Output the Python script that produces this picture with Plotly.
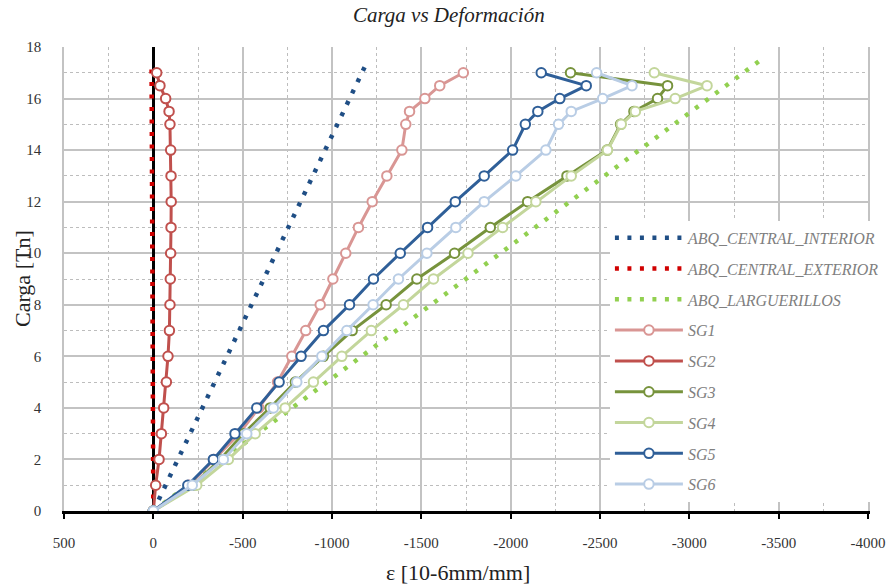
import plotly.graph_objects as go

# ---------------- data ----------------
loads = [0, 1, 2, 3, 4, 5, 6, 7, 8, 9, 10, 11, 12, 13, 14, 15, 15.5, 16, 16.5, 17]

sg1 = [0, -200, -340, -480, -590, -695, -775, -853, -934, -1005, -1077, -1148, -1225, -1307, -1391, -1413, -1434, -1520, -1603, -1735]
sg2 = [0, -13, -32, -45, -58, -73, -82, -90, -93, -95, -97, -99, -100, -99, -97, -93, -88, -69, -37, -19]
sg3 = [0, -224, -374, -504, -654, -795, -952, -1113, -1303, -1475, -1686, -1886, -2095, -2315, -2540, -2615, -2690, -2822, -2878, -2335]
sg4 = [0, -243, -420, -570, -738, -896, -1055, -1220, -1400, -1568, -1761, -1955, -2141, -2339, -2542, -2619, -2698, -2921, -3099, -2804]
sg5 = [0, -193, -336, -457, -579, -704, -827, -952, -1098, -1232, -1382, -1535, -1690, -1852, -2011, -2082, -2152, -2275, -2423, -2171]
sg6 = [0, -218, -392, -523, -672, -803, -943, -1083, -1230, -1372, -1531, -1693, -1852, -2029, -2197, -2268, -2339, -2515, -2679, -2481]

abq_ci_x = [0, -631, -758, -1195]
abq_ci_y = [0, 9.16, 11.0, 17.4]
abq_ce_x = [0, 10]
abq_ce_y = [0, 17.4]
abq_l_x = [0, -1223, -2333, -3394]
abq_l_y = [0, 6.28, 12.0, 17.47]

x_tick_vals = [500, 0, -500, -1000, -1500, -2000, -2500, -3000, -3500, -4000]
x_tick_text = ["500", "0", "-500", "-1000", "-1500", "-2000", "-2500", "-3000", "-3500", "-4000"]
y_tick_vals = [0, 2, 4, 6, 8, 10, 12, 14, 16, 18]
y_tick_text = ["0", "2", "4", "6", "8", "10", "12", "14", "16", "18"]

title_text = "Carga vs Deformación"
x_title = "ε [10-6mm/mm]"
y_title = "Carga [Tn]"

# ---------------- figure ----------------
SERIF = "Liberation Serif, Times New Roman, serif"
fig = go.Figure()

dotted = [
    ("ABQ_CENTRAL_INTERIOR", abq_ci_x, abq_ci_y, "#1f4e85"),
    ("ABQ_CENTRAL_EXTERIOR", abq_ce_x, abq_ce_y, "#d00000"),
    ("ABQ_LARGUERILLOS", abq_l_x, abq_l_y, "#92d050"),
]
for name, xs, ys, col in dotted:
    fig.add_trace(go.Scatter(
        x=xs, y=ys, name=name, mode="lines", legendgroup=name,
        line=dict(color=col, width=4.5, dash="4px,8.5px"),
    ))

solid = [
    ("SG1", sg1, "#d99694"),
    ("SG2", sg2, "#c0504d"),
    ("SG3", sg3, "#77933c"),
    ("SG4", sg4, "#c3d69b"),
    ("SG5", sg5, "#2f5f98"),
    ("SG6", sg6, "#b9cde5"),
]
for name, xs, col in solid:
    fig.add_trace(go.Scatter(
        x=xs, y=loads, name=name, mode="lines+markers", legendgroup=name,
        line=dict(color=col, width=3),
        marker=dict(symbol="circle", size=9.5, color="white", line=dict(color=col, width=2)),
    ))

grid_major = "#c3c3c3"
grid_minor = "#bdbdbd"

fig.update_layout(
    width=887, height=584,
    margin=dict(l=64, r=19, t=47, b=73, autoexpand=False),
    paper_bgcolor="white", plot_bgcolor="white",
    font=dict(family=SERIF, color="#333333", size=15),
    title=dict(text=title_text, x=0.506, xanchor="center",
               y=0.975, yanchor="middle",
               font=dict(family=SERIF, size=21, style="italic", color="#222222")),
    showlegend=True,
    legend=dict(
        x=0.679, xanchor="left", y=0.6254, yanchor="top",
        bgcolor="white", borderwidth=0,
        font=dict(family=SERIF, size=16, style="italic", color="#808080"),
        itemwidth=68, traceorder="grouped", tracegroupgap=7,
    ),
    xaxis=dict(
        range=[500, -4000], autorange=False, automargin=False,
        tickmode="array", tickvals=x_tick_vals, ticktext=x_tick_text,
        ticks="outside", ticklen=5, tickwidth=2, tickcolor="black",
        showline=True, linecolor="black", linewidth=3,
        showgrid=True, gridcolor=grid_major, gridwidth=1.5,
        zeroline=True, zerolinecolor="black", zerolinewidth=3,
        ticklabelstandoff=11,
        tickfont=dict(family=SERIF, size=15, color="#333333"),
        minor=dict(tickmode="linear", tick0=0, dtick=250, showgrid=True,
                   gridcolor=grid_minor, griddash="dot", gridwidth=1, ticks=""),
    ),
    yaxis=dict(
        range=[0, 18], autorange=False, automargin=False,
        tickmode="array", tickvals=y_tick_vals, ticktext=y_tick_text,
        ticks="", showline=True, linecolor=grid_major, linewidth=1.5, mirror=True,
        showgrid=True, gridcolor=grid_major, gridwidth=1.5,
        zeroline=False,
        ticklabelstandoff=18,
        tickfont=dict(family=SERIF, size=15, color="#333333"),
        minor=dict(tickmode="linear", tick0=0, dtick=1, showgrid=True,
                   gridcolor=grid_minor, griddash="dot", gridwidth=1, ticks=""),
    ),
    # tick marks crossing the vertical zero line
    yaxis2=dict(
        overlaying="y", anchor="free", position=500 / 4500, side="left",
        range=[0, 18], autorange=False, automargin=False,
        tickmode="array", tickvals=y_tick_vals,
        showticklabels=False, showgrid=False, zeroline=False, showline=False,
        ticks="outside", ticklen=4, tickwidth=2, tickcolor="black",
    ),
    yaxis3=dict(
        overlaying="y", anchor="free", position=500 / 4500, side="right",
        range=[0, 18], autorange=False, automargin=False,
        tickmode="array", tickvals=y_tick_vals,
        showticklabels=False, showgrid=False, zeroline=False, showline=False,
        ticks="outside", ticklen=4, tickwidth=2, tickcolor="black",
    ),
    xaxis2=dict(
        overlaying="x", anchor="y", side="bottom",
        range=[500, -4000], autorange=False, automargin=False,
        tickmode="array", tickvals=x_tick_vals,
        showticklabels=False, showgrid=False, zeroline=False, showline=False,
        ticks="inside", ticklen=4, tickwidth=2, tickcolor="black",
    ),
    annotations=[
        dict(text=x_title, xref="paper", yref="paper",
             x=(458 - 64) / 804, y=-(572 - 511) / 464,
             xanchor="center", yanchor="middle", showarrow=False,
             font=dict(family=SERIF, size=22, color="#222222")),
        dict(text=y_title, xref="paper", yref="paper", textangle=-90,
             x=-(64 - 22) / 804, y=0.5,
             xanchor="center", yanchor="middle", showarrow=False,
             font=dict(family=SERIF, size=22, color="#222222")),
    ],
)

fig.write_html(
    "out.html",
    config={"displayModeBar": False},
    post_script="document.body.style.margin='0';document.body.style.padding='0';"
                "document.documentElement.style.overflow='hidden';",
)
